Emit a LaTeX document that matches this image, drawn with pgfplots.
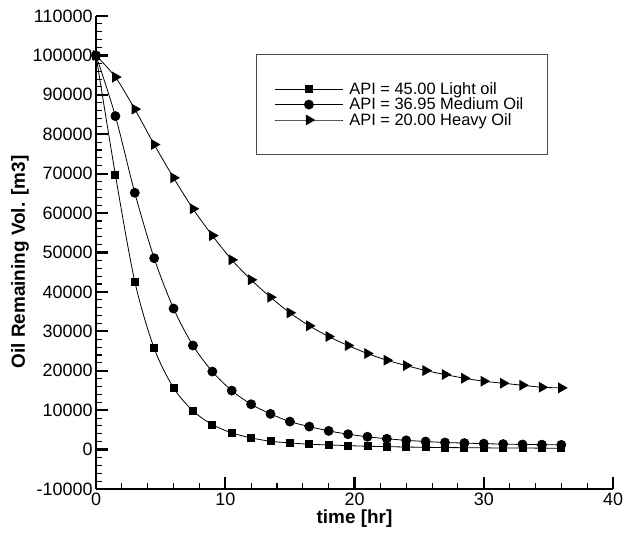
\documentclass[border=0pt]{standalone}
\usepackage{fontspec}
\setmainfont{Liberation Sans}
\usepackage{pgfplots}
\pgfplotsset{compat=1.18}

\pgfplotstableread{
t     light   medium  heavy
0     100000  100000  100000
1.5   69700   84600   94500
3     42640   65150   86370
4.5   25700   48550   77400
6     15660   35790   68960
7.5   9820    26400   61090
9     6345    19800   54300
10.5  4240    14970   48150
12    2970    11500   43070
13.5  2110    9060    38650
15    1700    7100    34700
16.5  1350    5840    31400
18    1190    4740    28680
19.5  1000    3900    26400
21    850     3250    24370
22.5  750     2750    22670
24    650     2350    21320
25.5  580     2050    20050
27    520     1800    19040
28.5  480     1650    18100
30    440     1500    17340
31.5  410     1400    16830
33    390     1300    16320
34.5  370     1250    15810
36    350     1200    15660
}\oildata

\begin{document}
\begin{tikzpicture}
\begin{axis}[
  scale only axis,
  width=517bp, height=473bp,
  xmin=0, xmax=40, ymin=-10000, ymax=110000,
  xtick={0,10,...,40},
  xticklabels={0,10,20,30,40},
  ytick={-10000,0,...,110000},
  yticklabels={-10000,0,10000,20000,30000,40000,50000,60000,70000,80000,90000,100000,110000},
  minor x tick num=4, minor y tick num=4,
  axis x line=bottom, axis y line=left,
  axis line style={-, line width=2.5bp},
  tick align=inside,
  major tick length=12bp, minor tick length=6bp,
  every major tick/.append style={line width=2.2bp, black},
  every minor tick/.append style={line width=1.1bp, black},
  scaled y ticks=false,
  tick label style={font=\fontsize{18}{20}\selectfont},
  xlabel={time [hr]},
  ylabel={Oil Remaining Vol. [m3]},
  every axis x label/.style={at={(axis description cs:0.5,-0.063)}, anchor=center,
    font=\fontsize{19}{22}\selectfont\bfseries},
  every axis y label/.style={at={(axis description cs:-0.147,0.48)}, rotate=90, anchor=center,
    font=\fontsize{19}{22}\selectfont\bfseries},
  legend style={at={(axis description cs:0.3095,0.9197)}, anchor=north west,
    draw=black!70, line width=1bp, inner xsep=18bp, inner ysep=27bp,
    font=\fontsize{16.5}{19}\selectfont, row sep=0pt,
    nodes={inner xsep=6bp, inner ysep=1bp}},
  legend cell align=left,
  legend image code/.code={\draw[mark repeat=2,mark phase=2] plot coordinates {(0bp,0bp) (34bp,0bp) (68bp,0bp)};},
]
\addplot[black, line width=0.8bp, smooth, mark=square*, mark size=3.5bp, mark options={solid}] table[x=t, y=light] {\oildata};
\addplot[black, line width=0.8bp, smooth, mark=*, mark size=4.5bp, mark options={solid}] table[x=t, y=medium] {\oildata};
\addplot[black, line width=0.8bp, smooth, mark=triangle*, mark size=5.5bp, mark options={solid, rotate=-90}] table[x=t, y=heavy] {\oildata};
\legend{API = 45.00 Light oil, API = 36.95 Medium Oil, API = 20.00 Heavy Oil}
\coordinate (bbll) at (axis description cs:-0.1857,-0.1015);
\coordinate (bbur) at (axis description cs:1.0193,1.0338);
\end{axis}
\pgfresetboundingbox
\path (bbll) rectangle (bbur);
\end{tikzpicture}
\end{document}
